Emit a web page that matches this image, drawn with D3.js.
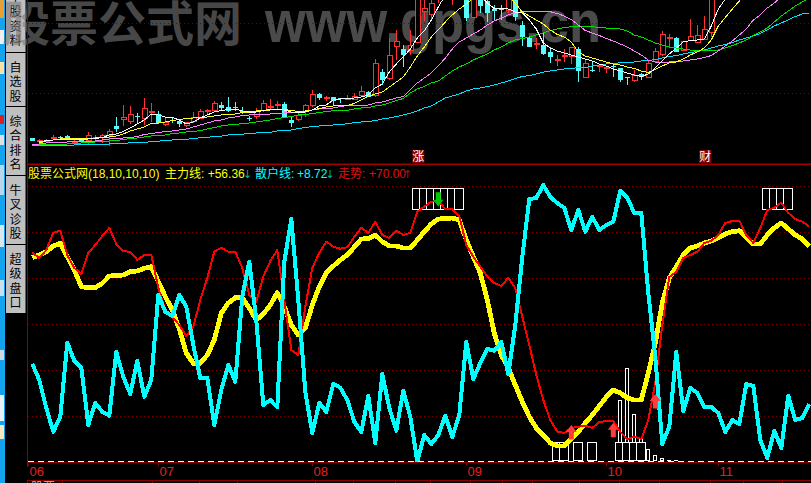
<!DOCTYPE html>
<html><head><meta charset="utf-8">
<script src="https://cdn.jsdelivr.net/npm/d3@7/dist/d3.min.js"></script>
<style>html,body{margin:0;padding:0;background:#000;overflow:hidden}svg{display:block}</style>
</head><body><div id="c"></div>
<script>
const candleOpen=[27,24.5,24.5,27,28.5,29,23.5,25,25,27.5,28,30,39,46,43.3,49,47,52.3,51,40.3,45.3,44,39.7,43.3,46.7,53.7,54.3,60,57.7,58.3,54,47,48.3,55,58,59.7,60.7,45,45.7,53.3,60,71,67,67.7,66.7,66,65.7,69.3,73,70,93.3,86.3,118.3,115.7,115,122.3,153.7,151,175,190,175,190,175,147.3,175,164,155.7,156.3,154.3,165,140,126.7,120.7,120,113.3,104.5,108.5,109,116,87.7,95.3,98.5,97,98.7,96.7,88,85,90.7,87.7,104,111,127,126.7,114.3,125,122.3,125.7,132.7];
const candleClose=[24.3,25,25,28,28,26,24,24.5,30,28,30,34,36,48,51,48,57,53.3,42.3,43,44.5,40.7,42.3,47.7,54,54.3,61.7,56.7,54.3,57.7,52.3,46.3,53.3,61.7,58.5,60.3,46.7,42.3,50,59.7,70.7,67.3,67.5,64.3,65.7,66.7,68.3,73.7,68.3,101.7,85,109.7,123.7,110,120,175,157,161.7,185,180,185,180,147.3,175,159,152.3,154.3,155,175,147.7,128.3,118.3,121.3,111,108.3,105.5,109.5,117.7,94.3,101.7,94.5,99.5,97.5,98,85,87,90,87.7,101.7,113.3,130.7,127.7,113.3,123.3,128.3,129.3,135.7,175];
const candleHigh=[27,26,26,30,29,30.3,25,27.5,33,30,31,36,48.3,60,59,52,67.3,62.3,54,48,48.3,45,43.3,52.7,56,56,64,63.3,67.7,62.7,57.7,49,56.7,65,66,63.7,63,49,53.3,60.7,75,71.7,69,68.3,67.3,70,71.7,79,74.3,105.7,95.7,127.3,135,120,135,180,170,170,190,195,190,195,180,180,180,168,160,160,180,168,144.3,127.7,126.7,132.7,118.3,110,115.7,118.3,117.7,105.7,104.3,100,99,100,97.3,88.3,95,91.7,104,116.7,134,130.7,127.7,123.3,146,140,149,180];
const candleLow=[24.3,23.3,23,26,25,26,22,22,20,25,22,19,33.3,39,41,42.3,40,43.3,41,39,42.3,38,38.3,42,45.7,51,53.3,54.3,53.3,54.3,50.7,44.3,46,53.3,56.5,55.7,46.7,38.3,44.3,48.3,58.3,65,64.3,59,61.7,65,65,68.3,67.7,68.3,80,85,105,98.3,110,122.3,144.3,145,162,172,160,172,144,147.3,152,143.3,145,145,151.7,144.3,119,118,115.7,110,101.7,99,103.3,101,83.3,87.7,93.3,93,92.3,87.7,83.3,80,83.3,85,87.7,104,109,118.3,113.3,114.3,125,122.3,125,128.3];
const maWhite=[null,23,24.5,25,26,26,26,26,26,26.5,27.5,30,31,33.5,37,41,45,51,50,48,47.5,45,41,43,47,50,53,54.5,55.5,56,54,53,53,54.5,56,56,55,53,52.5,53,55,59,60,65,66,66.5,67,68,70,77,81,93,101,108,116,127,134,145,158,170,178,180,180,173,169,162,156.5,157,156,153,152,145,136,122,117,114,112,110,108,106,104,101,99,96,94,92,90,88.5,91,97,104,111,117,123,124.5,125,126,139,156,166,175];
const maYellow=[null,22,24,25,26,26.3,26.5,26.7,27,27,27.5,28,29,31,34,36,38,41.5,42,43,44.5,45.5,46.5,47,47.5,48,49,50,50.5,51,52.5,53,54,55,55,56,55.5,54.5,53.5,54,55,56.5,58,59,59.5,59.5,61.5,65,68.5,71,73,78,83,88,98,109,118,128,135,143,150,156,161,167,173,173,173,172,168,162,153,149,145,141,135,130.5,128,123,113,109,107,105,103,101,100,98,96.5,94,92.5,95.5,99,102,103,106,110,113,117,125,139,147.5,156,164,173];
const maPink=[20,21,22,22.5,23,23,23.3,23.3,23.5,24,25,26,26.5,27,27.5,28.5,30.5,31.5,32.5,33.5,34,35,36,38,40,42,44,45,47,48,49.5,50,50.5,51,51,51.5,52,52.5,53,53.5,55,56,56.5,57,58.5,59.5,60,60,60,62,63,65,67,68.5,75,82,87,92,99,107,116,123,127,131,135,140,144,147,150,152.5,153.3,153.3,153.3,154,153.3,151.5,149,145.5,140,134.5,132,129.5,126.5,124,121,118,114,110,105,103,103,103,103.5,104,105,106,107.5,109.5,114,119,124,130,136,145,150,157,162,168];
const maGreen=[null,20.5,20.5,20.5,21,21,21.5,22,22.3,23,23.5,24,24.5,25.5,26.5,27,28,29,29.5,30,31.5,32,33,33.5,34.5,36,37.5,39,40,40.5,41.5,42,43,44,45,46.5,47.5,48.5,50,50.5,51.5,52.5,53.5,54.3,54.5,54.7,56,57,57.5,59,60,62,64.5,66.5,72,76,78.5,82,84,89,94,98,101,105,108,111,115,118,122,125,126.5,128,130,132,134.3,136,137.5,138.3,138.3,138.3,138.3,137.5,137,136.5,136,134,130,128,125,122,120,118,117,116,115,114,114.3,114.5,115,117,119.5,122,125,129.5,133,137,143,149,154,159,163,167];
const maCyan=[19.3,19.4,19.5,19.6,19.7,19.8,20,20.2,20.4,20.6,20.8,21,21.5,21.8,22.1,22.4,22.8,23.2,23.8,24.5,25,25.4,25.8,26.3,27.4,27.8,28.3,28.8,30,30.5,30.8,31.5,32,32.5,32.7,34,34.5,35,36.5,37.5,38.5,39,39.5,40,40.5,41.3,42.3,43,43.5,44.5,46,47,48.5,50,51.7,54,57,59,63,67,69,71,74,76,77,78.5,80,82,84,86.5,88.5,89.5,91,92.8,94,95,96,96.7,97.3,97.5,99,100,101,101.5,102.2,102.7,103,104,104.5,105.5,107,108.5,109.5,111,112.5,113.5,115,117,119,120.5,122.5,125,127,129,131.5,135,139,142,145,148.5,151,152];
const mainLine=[203.8,206.5,209.8,215.5,218.2,204.8,191.5,174.8,173.8,173.8,178.2,185.5,185.8,186.5,189.8,190.5,193.2,194.8,179.8,164.8,151.5,132.5,108.5,98.2,98.2,106.5,121.5,148.5,158.5,163.8,163.8,153.5,141.5,147.5,156.5,168.8,154.8,136.5,126.5,133.5,156.5,174.8,188.5,195.5,201.5,206.5,214.5,222.5,222.8,226.5,219.8,215.5,215.5,213.5,213.5,221.5,229.8,237.5,242.5,242.8,243.5,241.5,221.5,204.8,188.5,161.5,128.2,106.5,93.5,76.5,59.8,44.8,33.5,26.5,18.5,15.5,15.5,22.5,29.8,38.5,46.5,55.5,64.5,71.5,68.5,63.5,61.5,61.5,88.5,118.5,158.5,183.5,194.8,206.5,213.5,215.5,218.5,220.5,223.8,227.5,229.8,230.8,224.5,217.5,217.5,226.5,233.5,238.5,232.5,226.5,222.5,215.5];
const trendLine=[208.8,203.5,211.5,228.8,230.8,206.5,193.5,187.5,208.8,216.5,225.5,233.5,217.5,210.2,209.8,201.5,206.5,206.8,173.5,151.5,144.8,136.5,125.5,134.8,161.5,183.5,209.8,213.8,209.8,209.8,193.5,166.5,159.8,184.8,200.5,211.5,161.5,111.5,106.5,154.8,193.5,208.8,219.8,214.8,212.8,214.2,224.5,233.8,228.5,239.8,226.5,223.5,230.8,226.5,228.8,249.8,254.8,259.8,260.5,252.5,252.5,245.5,216.5,204.8,194.8,184.8,178.5,175.5,183.8,173.5,144.8,116.5,86.5,61.5,41.5,29.8,28.5,33.5,34.8,35.8,33.5,39.8,40.2,40.2,29.8,22.5,24.8,22.5,41.5,78.5,136.5,184.5,189.8,203.5,206.5,209.8,218.5,220.8,226.5,238.5,240.5,240.8,226.5,218.5,233.5,251.5,253.8,258.8,248.5,242.5,239.8,234.8];
const retailLine=[97.5,81.5,53.5,29.8,44.8,118.8,100.8,93.8,36.5,58.5,49.8,45.8,109.5,84.8,67.5,100.8,64.8,81.5,166.5,149.8,145.5,166.5,154.8,116.5,83.5,83.5,36.5,71.5,96.5,79.8,164.8,199.8,141.5,56.5,61.5,54.2,199.5,242.5,161.5,69.8,28.5,58.8,49.5,77.5,73.8,61.5,39.8,29.5,65.5,18.5,87.5,53.5,30.8,70.8,44.8,0,26.5,17.5,26.5,45.8,24.5,46.5,119.5,82.5,98.5,112.5,110.8,119.5,87.5,136.5,204.5,262.5,263.5,276.5,264.5,258.5,253.5,231.5,251.5,229.8,244.5,231.5,236.5,239.8,270.8,263.5,248.5,248.5,168.5,104.5,17.5,34.8,109.5,50.5,73.5,68.5,54.5,54.5,48.5,29.5,41.5,37.5,77.5,75.5,21.5,3.5,30.8,13.5,65.8,41.5,43.5,57.5];
const topBoxIdx=[55,56,57,58,59,60,61,105,106,107,108];
const lowBoxIdx=[75,76,78,80,84,85,86,87];
const thinIdx=[84,85,86,87,88,89,90,91,92];
const thinVal=[61.5,93.2,47.2,22.2,12.2,6.2,3.2,1.5,1.2];
const upIdx=[77,83,89], upTip=[36.5,38.8,67.5];
const downIdx=[58], downTip=[254.8];
const monthIdx=[-0.57,18,40,62,82,98], monthLab=["06","07","08","09","10","11"];
const eventIdx=[55,96], eventLab=["涨","财"];
const priceGrid=[71.7,141.7], valueGrid=[46,92,138,184,230,276];
const tabs=[["个","股","资","料"],["自","选","股"],["综","合","排","名"],["牛","叉","诊","股"],["超","级","盘","口"]];
const footTicks=[62,152,199,237,315,353,395,430,470,502,532,579,619,659,710,743,782];

const W=811,H=483;
const svg=d3.select("#c").append("svg").attr("width",W).attr("height",H).style("background","#000");
const x=d3.scaleLinear().domain([0,111]).range([32.3,809.3]);
const yP=d3.scaleLinear().domain([0,165]).range([165,0]);
const yV=d3.scaleLinear().domain([0,276]).range([461.5,185.5]);
const FONT='"Liberation Sans","Noto Sans CJK SC",sans-serif';
const defs=svg.append("defs");
defs.append("clipPath").attr("id","up").append("rect").attr("x",28).attr("y",0).attr("width",W-28).attr("height",163);
defs.append("clipPath").attr("id","lo").append("rect").attr("x",28).attr("y",166).attr("width",W-28).attr("height",296);

// desktop sliver at far left
svg.append("rect").attr("x",0).attr("y",0).attr("width",5).attr("height",H).attr("fill","#12a4ee");
[[0,18,"#e8a030"],[30,14,"#f0f0f0"],[62,12,"#ffe0a0"],[115,9,"#d82020"],[135,10,"#e0e0e0"],[165,30,"#b8d8e8"],[225,22,"#d8e8f0"],[280,16,"#c8e0f0"],[350,10,"#d0d8e0"],[395,26,"#e8f0f8"],[425,14,"#f8e8c0"]].forEach(d=>svg.append("rect").attr("x",0).attr("y",d[0]).attr("width",4).attr("height",d[1]).attr("fill",d[2]));
svg.append("rect").attr("x",5).attr("y",0).attr("width",22).attr("height",H).attr("fill","#000");

// side tabs
const tabY=[[0,52],[53,106],[107,175],[176,244],[245,313]];
const tabFirst=[-3,67,121,190,259];
tabs.forEach((t,i)=>{
  svg.append("rect").attr("x",6).attr("y",tabY[i][0]).attr("width",19.5).attr("height",tabY[i][1]-tabY[i][0]).attr("fill","#c0c0c0");
  t.forEach((c,j)=>svg.append("text").attr("x",15.5).attr("y",tabFirst[i]+j*14.4+5).attr("text-anchor","middle").attr("font-family",FONT).attr("font-size",12).attr("fill","#000").text(c));
});

// watermark
const wm=svg.append("g").attr("fill","rgba(120,120,120,0.62)").attr("font-weight","bold");
wm.append("text").attr("x",2).attr("y",41).attr("font-family",'"Noto Sans CJK SC",sans-serif').attr("font-size",48).text("股票公式网");
wm.append("text").attr("x",265).attr("y",42).attr("font-family",'"Liberation Sans",sans-serif').attr("font-size",60).attr("textLength",336).attr("lengthAdjust","spacingAndGlyphs").text("www.gpgs.cn");

// frame
const RULE="#8c0000";
svg.append("line").attr("x1",27.5).attr("x2",27.5).attr("y1",0).attr("y2",467).attr("stroke",RULE);
svg.append("rect").attr("x",28).attr("y",163.5).attr("width",W-28).attr("height",1.5).attr("fill","#a00000");
svg.append("rect").attr("x",28).attr("y",480).attr("width",W-28).attr("height",1).attr("fill",RULE);
svg.append("line").attr("x1",28).attr("x2",W).attr("y1",462.5).attr("y2",462.5).attr("stroke",RULE);
footTicks.forEach(t=>svg.append("line").attr("x1",t+.5).attr("x2",t+.5).attr("y1",480).attr("y2",483).attr("stroke",RULE));
svg.append("line").attr("x1",27.5).attr("x2",27.5).attr("y1",480).attr("y2",483).attr("stroke",RULE);
svg.append("text").attr("x",31).attr("y",492).attr("font-family",FONT).attr("font-size",12).attr("fill","#c0c0c0").text("股票");

// grids
const grid=svg.append("g").attr("stroke","#7a0000").attr("stroke-dasharray","1 3");
priceGrid.forEach(v=>grid.append("line").attr("x1",28).attr("x2",W).attr("y1",Math.round(yP(v))+.5).attr("y2",Math.round(yP(v))+.5));
valueGrid.forEach(v=>grid.append("line").attr("x1",28).attr("x2",W).attr("y1",Math.round(yV(v))+.5).attr("y2",Math.round(yV(v))+.5));

// candles
const up=svg.append("g").attr("clip-path","url(#up)");
const RED="#ff3232",CY="#54fcfc";
const cdata=candleOpen.map((o,i)=>({i,o,c:candleClose[i],h:candleHigh[i],l:candleLow[i]}));
const cg=up.selectAll("g.k").data(cdata).join("g").attr("class","k").attr("shape-rendering","crispEdges");
cg.append("line").attr("x1",d=>Math.round(x(d.i))+.5).attr("x2",d=>Math.round(x(d.i))+.5).attr("y1",d=>yP(d.h)).attr("y2",d=>yP(d.l)).attr("stroke",d=>d.c>=d.o?RED:CY);
cg.append("rect").attr("x",d=>Math.round(x(d.i))-2+(0)).attr("width",5).attr("y",d=>yP(Math.max(d.o,d.c))).attr("height",d=>Math.max(1,Math.abs(d.o-d.c))).attr("fill",d=>d.c>=d.o?(Math.abs(d.o-d.c)<1.5?RED:"#000"):CY).attr("stroke",d=>d.c>=d.o?RED:CY).attr("stroke-width",d=>d.c>=d.o?1:0);
const lineP=d3.line().defined(v=>v!=null).x((v,i)=>x(i)).y(v=>yP(v));
[[maCyan,"#00e0ff"],[maGreen,"#00e000"],[maPink,"#ff80ff"],[maYellow,"#ffff20"],[maWhite,"#ffffff"]].forEach(s=>up.append("path").attr("d",lineP(s[0])).attr("fill","none").attr("stroke",s[1]).attr("stroke-width",1).attr("shape-rendering","crispEdges"));
eventIdx.forEach((e,k)=>{
  const cx=x(e)+1;
  svg.append("rect").attr("x",cx-6).attr("y",150).attr("width",12).attr("height",13).attr("fill","#800000");
  svg.append("text").attr("x",cx).attr("y",161).attr("text-anchor","middle").attr("font-family",FONT).attr("font-size",12).attr("fill","#fff").text(eventLab[k]);
});

// lower pane
const lo=svg.append("g").attr("clip-path","url(#lo)");
const boxW=9.4;
topBoxIdx.forEach(i=>lo.append("rect").attr("x",Math.floor(x(i)-boxW/2)+.5).attr("width",9).attr("y",yV(273.5)).attr("height",yV(252.2)-yV(273.5)).attr("fill","#000").attr("stroke","#fff").attr("shape-rendering","crispEdges"));
thinIdx.forEach((i,k)=>lo.append("rect").attr("x",Math.round(x(i))-1.5).attr("width",3).attr("y",yV(thinVal[k])).attr("height",Math.max(.5,yV(.8)-yV(thinVal[k]))).attr("fill","#000").attr("stroke","#fff").attr("shape-rendering","crispEdges"));
lowBoxIdx.forEach(i=>lo.append("rect").attr("x",Math.floor(x(i)-boxW/2)+.5).attr("width",9).attr("y",yV(19)).attr("height",yV(.8)-yV(19)).attr("fill","#000").attr("stroke","#fff").attr("shape-rendering","crispEdges"));
const lineV=d3.line().x((v,i)=>x(i)).y(v=>yV(v));
[[mainLine,"#ffff00",4.8],[trendLine,"#ff0000",2],[retailLine,"#00ffff",4]].forEach(s=>lo.append("path").attr("d",lineV(s[0])).attr("fill","none").attr("stroke",s[1]).attr("stroke-width",s[2]).attr("stroke-linejoin","round").attr("shape-rendering","crispEdges"));
upIdx.forEach((i,k)=>lo.append("path").attr("transform",`translate(${x(i)},${yV(upTip[k])})`).attr("d","M0,0L5.5,7H2.5V14.5H-2.5V7H-5.5Z").attr("fill","#ff3c3c"));
downIdx.forEach((i,k)=>lo.append("path").attr("transform",`translate(${x(i)},${yV(downTip[k])})`).attr("d","M0,0L5,-7H2.5V-14.5H-2.5V-7H-5Z").attr("fill","#00c800"));

// zero dash
svg.append("line").attr("x1",28).attr("x2",W).attr("y1",461.5).attr("y2",461.5).attr("stroke","#fff").attr("stroke-dasharray","6 4");

// month axis
monthIdx.forEach((m,k)=>{
  const px=x(m);
  svg.append("line").attr("x1",Math.round(px)+.5).attr("x2",Math.round(px)+.5).attr("y1",462).attr("y2",466).attr("stroke",RULE);
  svg.append("text").attr("x",px+1.3).attr("y",475.5).attr("font-family",FONT).attr("font-size",13).attr("fill","#e02020").text(monthLab[k]);
});

// header
const hdr=[[28,"股票公式网","#ffff00",12],[88,"(18,10,10,10)","#ffff00",12],[165,"主力线:","#ffff00",12],[207.7,"+56.36","#ffff00",12],[243,"↓","#00b0b0",11],[255,"散户线:","#00ffff",12],[297,"+8.72","#00ffff",12],[325.5,"↓","#00b0b0",11],[338,"走势:","#e01010",12],[369,"+70.00","#e01010",12],[403,"↑","#b01010",11]];
hdr.forEach(d=>svg.append("text").attr("x",d[0]).attr("y",178).attr("font-family",d[3]===11?'"DejaVu Sans",sans-serif':FONT).attr("font-size",d[3]).attr("fill",d[2]).text(d[1]));
</script></body></html>
